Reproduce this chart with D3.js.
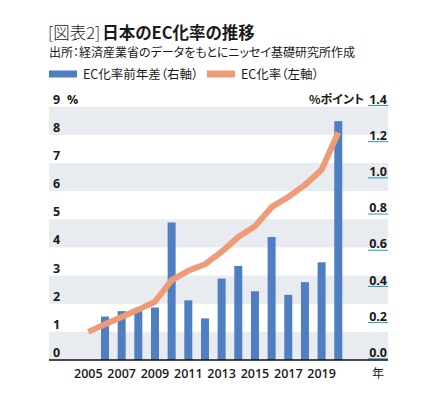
<!DOCTYPE html>
<html lang="ja">
<head>
<meta charset="utf-8">
<title>日本のEC化率の推移</title>
<script src="https://cdn.jsdelivr.net/npm/d3@7"></script>
<style>
  body { margin: 0; background: #fff; }
  svg text { font-family: "Noto Sans CJK JP", "Noto Sans", sans-serif; fill: #1a1a1a; font-feature-settings: "palt"; }
  .num { font-family: "Open Sans", "Noto Sans", sans-serif; }
</style>
</head>
<body>
<svg id="chart" width="435" height="395"></svg>
<script>
// 年
const years = d3.range(2005, 2021);
// EC化率（左軸, %）
const ecRate = [1.0, 1.27, 1.53, 1.79, 2.07, 2.84, 3.17, 3.40, 3.85, 4.37, 4.75, 5.43, 5.79, 6.22, 6.76, 8.08];
// EC化率前年差（右軸, %ポイント） 2006-2020
const diffYears = d3.range(2006, 2021);
const ecDiff = [0.24, 0.27, 0.27, 0.29, 0.76, 0.33, 0.23, 0.45, 0.52, 0.38, 0.68, 0.36, 0.43, 0.54, 1.32];
const leftTicks = d3.range(0, 10);
const rightTicks = [0, 0.2, 0.4, 0.6, 0.8, 1.0, 1.2, 1.4];
const xLabels = [2005, 2007, 2009, 2011, 2013, 2015, 2017, 2019];

const blue = "#4f7fc2", salmon = "#ee9b78", band = "#e8ebef", teal = "#1b9fb4";
const L = 49, R = 388, T = 106.7, B = 360;

const svg = d3.select("#chart");

const x = d3.scaleBand().domain(years).range([80, 346.6]).paddingInner(0.52).paddingOuter(0.26);
const yL = d3.scaleLinear().domain([0, 9]).range([B, T]);
const yR = d3.scaleLinear().domain([0, 1.4]).range([B, T]);

// title
const title = svg.append("text").attr("x", 48).attr("y", 39).attr("font-size", 16.5);
title.append("tspan").attr("font-weight", 300).text("[図表2]");
title.append("tspan").attr("font-weight", 700).attr("dx", 2).text("日本のEC化率の推移");
svg.append("text").attr("x", 49).attr("y", 57).attr("font-size", 12)
  .text("出所：経済産業省のデータをもとにニッセイ基礎研究所作成");

// legend
svg.append("rect").attr("x", 49).attr("y", 70.5).attr("width", 28).attr("height", 7).attr("fill", blue);
svg.append("text").attr("x", 83).attr("y", 79).attr("font-size", 12.5).text("EC化率前年差（右軸）");
svg.append("rect").attr("x", 207).attr("y", 70.5).attr("width", 28).attr("height", 7).attr("fill", salmon);
svg.append("text").attr("x", 241).attr("y", 79).attr("font-size", 12.5).text("EC化率（左軸）");

// bands
svg.append("g").selectAll("rect").data(leftTicks.filter(d => d % 2 === 0 && d < 9)).join("rect")
  .attr("x", L).attr("width", R - L)
  .attr("y", d => yL(d + 1)).attr("height", d => yL(d) - yL(d + 1))
  .attr("fill", band);

// left axis labels
svg.append("g").selectAll("text").data(leftTicks).join("text")
  .attr("class", "num").attr("x", 53).attr("y", d => yL(d) - 3)
  .attr("font-size", 12.5).attr("font-weight", 700).text(d => d);
svg.append("text").attr("class", "num").attr("x", 67).attr("y", yL(9) - 3)
  .attr("font-size", 12.5).attr("font-weight", 700).text("%");

// right axis labels + underline
const rg = svg.append("g");
rg.selectAll("text").data(rightTicks).join("text")
  .attr("class", "num").attr("x", 387).attr("y", d => yR(d) - 3).attr("text-anchor", "end")
  .attr("font-size", 12.5).attr("font-weight", 700).text(d => d.toFixed(1));
rg.selectAll("line").data(rightTicks).join("line")
  .attr("x1", 368).attr("x2", 388).attr("y1", d => yR(d) - 1.2).attr("y2", d => yR(d) - 1.2)
  .attr("stroke", teal).attr("stroke-width", 1);
svg.append("text").attr("x", 364).attr("y", yR(1.4) - 3).attr("text-anchor", "end")
  .attr("font-size", 12).attr("font-weight", 700).text("%ポイント");

// bars
svg.append("g").selectAll("rect").data(diffYears.map((yr, i) => ({ yr, v: ecDiff[i] }))).join("rect")
  .attr("x", d => x(d.yr)).attr("width", x.bandwidth())
  .attr("y", d => yR(d.v)).attr("height", d => B - yR(d.v))
  .attr("fill", blue);

// line
const line = d3.line().x((d, i) => x(years[i]) + x.bandwidth() / 2).y(d => yL(d));
svg.append("path").datum(ecRate).attr("d", line)
  .attr("fill", "none").attr("stroke", salmon).attr("stroke-width", 6).attr("stroke-linejoin", "round");

// baseline
svg.append("line").attr("x1", L).attr("x2", R).attr("y1", B).attr("y2", B)
  .attr("stroke", "#111").attr("stroke-width", 1.5);

// x labels
svg.append("g").selectAll("text").data(xLabels).join("text")
  .attr("class", "num").attr("x", d => x(d) + x.bandwidth() / 2).attr("y", 377.5)
  .attr("text-anchor", "middle").attr("font-size", 12.5).attr("font-weight", 600).text(d => d);
svg.append("text").attr("x", 378).attr("y", 377.5).attr("text-anchor", "middle").attr("font-size", 12).text("年");
</script>
</body>
</html>
